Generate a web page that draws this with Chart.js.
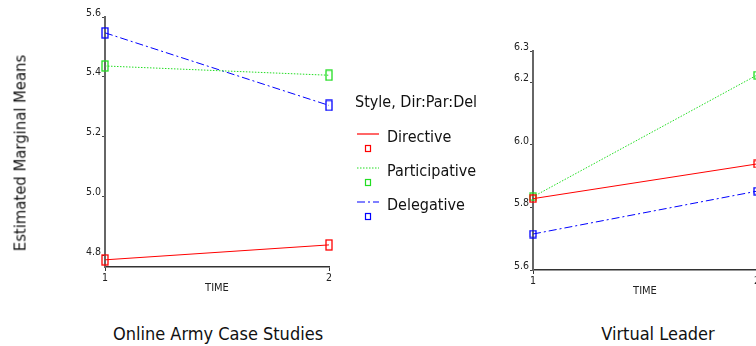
<!DOCTYPE html>
<html>
<head>
<meta charset="utf-8">
<script src="https://cdn.jsdelivr.net/npm/chart.js@4/dist/chart.umd.min.js"></script>
<style>
  html, body { margin: 0; padding: 0; background: #fff; overflow: hidden; width: 756px; height: 346px; }
  body { position: relative; font-family: "DejaVu Sans Condensed", "DejaVu Sans", sans-serif; color: #111; }
  canvas { position: absolute; top: 0; }
  .txt { position: absolute; white-space: nowrap; }
  .center { transform: translateX(-50%); }
  #ytitle { left: 20px; top: 153px; font-size: 16.5px; transform: translate(-50%, -50%) rotate(-90deg); }
  .panel { top: 323px; font-size: 18px; }
  #legend { left: 355px; top: 92px; font-size: 16px; }
  .leg-item { position: absolute; left: 0; }
  .leg-item svg { position: absolute; left: 0; top: 0; }
  .leg-item span { position: absolute; left: 32px; }
</style>
</head>
<body>
<canvas id="left" width="360" height="310" style="left:0px"></canvas>
<canvas id="right" width="330" height="310" style="left:470px"></canvas>

<div id="ytitle" class="txt">Estimated Marginal Means</div>
<div class="txt panel center" style="left:218px">Online Army Case Studies</div>
<div class="txt panel center" style="left:658px">Virtual Leader</div>

<div id="legend" class="txt">
  <div class="txt" style="left:0;top:0">Style, Dir:Par:Del</div>
</div>

<script>
// values
const timePoints = [1, 2];
const styleNames = ['Directive', 'Participative', 'Delegative'];

// Online Army Case Studies
const armyDirective = [4.787, 4.837];
const armyParticipative = [5.436, 5.405];
const armyDelegative = [5.547, 5.304];
const armyTicks = [4.8, 5.0, 5.2, 5.4, 5.6];

// Virtual Leader
const virtualDirective = [5.828, 5.939];
const virtualParticipative = [5.834, 6.223];
const virtualDelegative = [5.715, 5.852];
const virtualTicks = [5.6, 5.8, 6.0, 6.2, 6.3];

const lineColors = ['#ff0000', '#22dd22', '#0000ff'];
const lineDashes = [[], [1.5, 1.5], [8, 3, 2, 3]];

Chart.defaults.font.family = '"DejaVu Sans Condensed", "DejaVu Sans", sans-serif';
Chart.defaults.color = '#222';

// little open rectangle used as the point marker
function makeMarker(color, w, h) {
    const c = document.createElement('canvas');
    c.width = w + 2;
    c.height = h + 2;
    const ctx = c.getContext('2d');
    ctx.strokeStyle = color;
    ctx.lineWidth = 1.3;
    ctx.strokeRect(1, 1, w, h);
    return c;
}

function buildChart(canvasId, series, yMin, yMax, yTicks, padding, markerH) {
    const datasets = series.map(function(values, i) {
        return {
            label: styleNames[i],
            data: timePoints.map((t, k) => ({x: t, y: values[k]})),
            borderColor: lineColors[i],
            borderWidth: 1,
            borderDash: lineDashes[i],
            pointStyle: makeMarker(lineColors[i], 6, markerH),
            pointRadius: 4,
            clip: false
        };
    });

    return new Chart(document.getElementById(canvasId).getContext('2d'), {
        type: 'line',
        data: {datasets: datasets},
        options: {
            responsive: false,
            animation: false,
            layout: {padding: padding},
            plugins: {legend: {display: false}, tooltip: {enabled: false}},
            scales: {
                x: {
                    type: 'linear',
                    min: 1,
                    max: 2,
                    afterBuildTicks: s => { s.ticks = timePoints.map(v => ({value: v})); },
                    afterFit: s => { s.height = 28; },
                    ticks: {font: {size: 10.5}, padding: 1, maxRotation: 0, callback: v => String(v)},
                    grid: {drawOnChartArea: false, drawTicks: true, tickLength: 4, color: '#333'},
                    border: {color: '#333', width: 1.5},
                    title: {display: true, text: 'TIME', font: {size: 11}, padding: 0, color: '#222'}
                },
                y: {
                    min: yMin,
                    max: yMax,
                    afterBuildTicks: s => { s.ticks = yTicks.map(v => ({value: v})); },
                    afterFit: s => { s.width = 30; },
                    ticks: {font: {size: 10.5}, padding: 1, labelOffset: -4, callback: v => v.toFixed(1)},
                    grid: {drawOnChartArea: false, drawTicks: true, tickLength: 3, color: '#444'},
                    border: {color: '#666', width: 2}
                }
            }
        }
    });
}

buildChart('left', [armyDirective, armyParticipative, armyDelegative],
    4.763, 5.6, armyTicks, {left: 75, right: 31, top: 17, bottom: 15}, 10);

buildChart('right', [virtualDirective, virtualParticipative, virtualDelegative],
    5.6, 6.3, virtualTicks, {left: 33, right: 43, top: 51, bottom: 12}, 7);

// legend: line sample with marker underneath, then the name
const legendTops = [33, 67, 101];
const legend = document.getElementById('legend');
styleNames.forEach(function(name, i) {
    const item = document.createElement('div');
    item.className = 'leg-item';
    item.style.top = legendTops[i] + 'px';
    const dash = lineDashes[i].length ? lineDashes[i].join(' ') : 'none';
    item.innerHTML =
        '<svg width="26" height="34">' +
        '<line x1="2" y1="9" x2="24" y2="9" stroke="' + lineColors[i] + '" stroke-width="1.2" stroke-dasharray="' + dash + '"/>' +
        '<rect x="10.5" y="20.5" width="5" height="6" fill="none" stroke="' + lineColors[i] + '" stroke-width="1.2"/>' +
        '</svg>' +
        '<span style="top:2px">' + name + '</span>';
    legend.appendChild(item);
});
</script>
</body>
</html>
